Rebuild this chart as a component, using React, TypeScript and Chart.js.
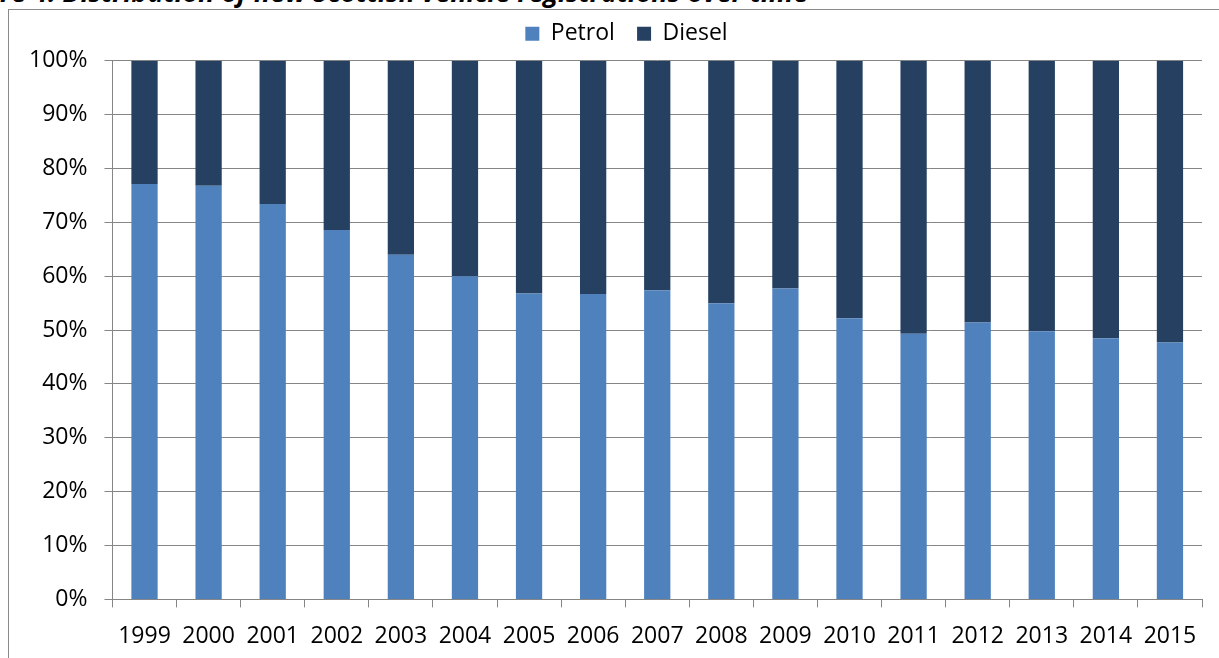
import React, { useEffect, useRef } from "react";
import { Chart, registerables } from "chart.js";

Chart.register(...registerables);

const categories = [
  "1999", "2000", "2001", "2002", "2003", "2004", "2005", "2006", "2007",
  "2008", "2009", "2010", "2011", "2012", "2013", "2014", "2015",
];
const petrol = [77.1, 76.8, 73.4, 68.6, 64.0, 60.0, 56.8, 56.7, 57.4, 55.0, 57.7, 52.2, 49.3, 51.4, 49.8, 48.5, 47.7];
const diesel = [22.9, 23.2, 26.6, 31.4, 36.0, 40.0, 43.2, 43.3, 42.6, 45.0, 42.3, 47.8, 50.7, 48.6, 50.2, 51.5, 52.3];
const seriesNames = ["Petrol", "Diesel"];
const titleText = "re 4: Distribution of new Scottish vehicle registrations over time";
const yMin = 0;
const yMax = 100;
const yStep = 10;

const FONT = '"Open Sans", "Liberation Sans", sans-serif';
const GRID = "#868686";

// legend layout tweaks: extra gap below, and horizontal centring like the original
const legendTweak = {
  id: "legendTweak",
  beforeLayout(chart: any) {
    const lg = chart.legend;
    if (lg && !lg._patched) {
      const orig = lg.fit.bind(lg);
      lg.fit = function () {
        orig();
        this.height += 5.5;
      };
      lg._patched = true;
    }
  },
  afterLayout(chart: any) {
    if (chart.legend) {
      chart.legend.left += 19.5;
      chart.legend.right += 19.5;
    }
  },
};

export default function App() {
  const canvasRef = useRef<HTMLCanvasElement | null>(null);

  useEffect(() => {
    const canvas = canvasRef.current;
    if (!canvas) return;
    const chart = new Chart(canvas, {
      type: "bar",
      data: {
        labels: categories,
        datasets: [
          {
            label: seriesNames[0],
            data: petrol,
            backgroundColor: "#4F81BD",
            barPercentage: 0.41,
            categoryPercentage: 1,
          },
          {
            label: seriesNames[1],
            data: diesel,
            backgroundColor: "#254061",
            barPercentage: 0.41,
            categoryPercentage: 1,
          },
        ],
      },
      plugins: [legendTweak],
      options: {
        animation: false,
        responsive: false,
        maintainAspectRatio: false,
        layout: { padding: { left: 3, right: 17, top: 0, bottom: 11 } },
        plugins: {
          tooltip: { enabled: false },
          legend: {
            position: "top",
            labels: {
              boxWidth: 14,
              boxHeight: 14,
              padding: 22.25,
              color: "#000",
              font: { family: FONT, size: 23 },
            },
          },
        },
        scales: {
          x: {
            stacked: true,
            grid: {
              offset: true,
              drawOnChartArea: false,
              drawTicks: true,
              tickLength: 8,
              color: GRID,
            },
            border: { color: GRID },
            ticks: {
              color: "#000",
              padding: 15,
              maxRotation: 0,
              autoSkip: false,
              font: { family: FONT, size: 23 },
            },
          },
          y: {
            stacked: true,
            min: yMin,
            max: yMax,
            grid: { color: GRID, tickLength: 8 },
            border: { color: GRID },
            ticks: {
              stepSize: yStep,
              color: "#000",
              padding: 17,
              font: { family: FONT, size: 23 },
              callback: (v: any) => v + "%",
            },
          },
        },
      },
    });
    return () => chart.destroy();
  }, []);

  return (
    <div
      style={{
        position: "fixed",
        left: 0,
        top: 0,
        width: "100vw",
        height: "100vh",
        overflow: "hidden",
        background: "#fff",
      }}
    >
      <div
        style={{
          position: "absolute",
          left: 0,
          top: -21.3,
          whiteSpace: "nowrap",
          fontFamily: FONT,
          fontStyle: "italic",
          fontWeight: "bold",
          fontSize: 26.8,
          lineHeight: "26.8px",
          color: "#000",
        }}
      >
        {titleText}
      </div>
      <div
        style={{
          position: "absolute",
          left: 8,
          top: 9,
          width: 1400,
          height: 800,
          border: "1px solid #8a8a8a",
          boxSizing: "border-box",
        }}
      />
      <canvas
        ref={canvasRef}
        width={1210}
        height={676}
        style={{ position: "absolute", left: 9, top: 0, width: 1210, height: 676 }}
      />
    </div>
  );
}
